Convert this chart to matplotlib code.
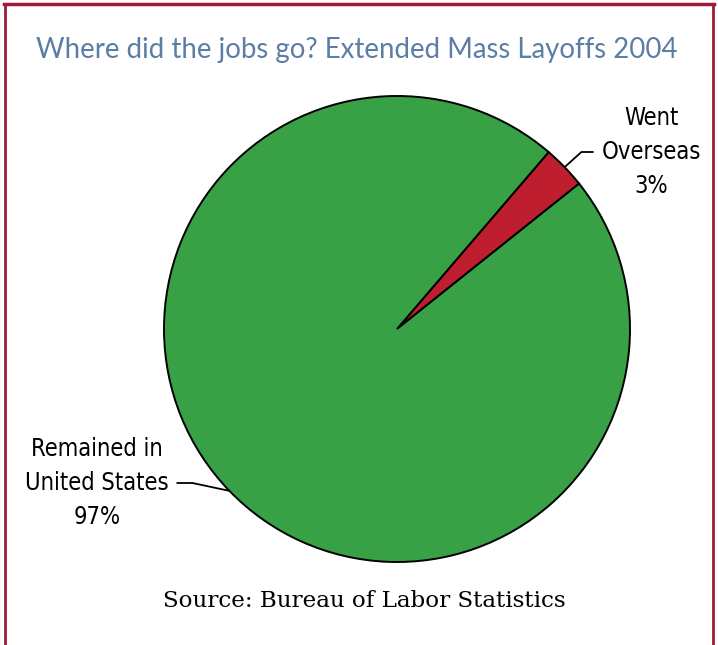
import matplotlib.pyplot as plt
import numpy as np
from matplotlib.lines import Line2D

# data
labels = ['Went\nOverseas\n3%', 'Remained in\nUnited States\n97%']
shares = [3, 97]
colors = ['#be1e2d', '#38a145']
title = 'Where did the jobs go? Extended Mass Layoffs 2004'
source = 'Source: Bureau of Labor Statistics'

W, H = 718, 645
fig = plt.figure(figsize=(W / 100, H / 100), dpi=100)
fig.patch.set_facecolor('white')

# pie axes: centre (397,329), radius 233 px
cx, cy, r = 397, 329, 233
ax = fig.add_axes([(cx - r) / W, (H - cy - r) / H, 2 * r / W, 2 * r / H])
wedges, _ = ax.pie(shares, colors=colors, startangle=38.6, counterclock=True,
                   wedgeprops=dict(edgecolor='black', linewidth=1.4))
ax.set_xlim(-1, 1)
ax.set_ylim(-1, 1)
ax.set_aspect('equal')
ax.axis('off')

# label positions in axes fraction, leader line angle at the rim
label_pos = [((651 - (cx - r)) / (2 * r), (H - 152 - (H - cy - r)) / (2 * r)),
             ((97 - (cx - r)) / (2 * r), (H - 483 - (H - cy - r)) / (2 * r))]
rim_angle = [42, 168]
relpos = [(0, 0.5), (1, 0.5)]
for w, lab, pos, ang, rp in zip(wedges, labels, label_pos, rim_angle, relpos):
    mid = np.deg2rad((w.theta1 + w.theta2) / 2)
    ax.annotate(lab, xy=(np.cos(mid), np.sin(mid)), xycoords='data',
                xytext=pos, textcoords='axes fraction',
                ha='center', va='center', fontsize=17, family='DejaVu Sans',
                fontstretch='condensed', linespacing=1.52, annotation_clip=False,
                arrowprops=dict(arrowstyle='-', color='black', lw=1.3,
                                shrinkA=4, shrinkB=0, relpos=rp,
                                connectionstyle='angle,angleA=0,angleB=%d,rad=0' % ang))

fig.text(357 / W, 1 - 50 / H, title, ha='center', va='center',
         fontsize=19.9, color='#5b7ea4', family=['Lato', 'DejaVu Sans'])
fig.text(364 / W, 1 - 601 / H, source, ha='center', va='center',
         fontsize=16.6, color='black', family=['DejaVu Serif'])

# dark red frame (top, left, right)
frame = '#a01c35'
fig.add_artist(Line2D([4.5 / W, 4.5 / W], [0, 1 - 3.5 / H], color=frame, lw=2, transform=fig.transFigure))
fig.add_artist(Line2D([712.5 / W, 712.5 / W], [0, 1 - 3.5 / H], color=frame, lw=2, transform=fig.transFigure))
fig.add_artist(Line2D([3.5 / W, 713.5 / W], [1 - 3.5 / H, 1 - 3.5 / H], color=frame, lw=2.5, transform=fig.transFigure))

fig.savefig('out.png', dpi=100)
